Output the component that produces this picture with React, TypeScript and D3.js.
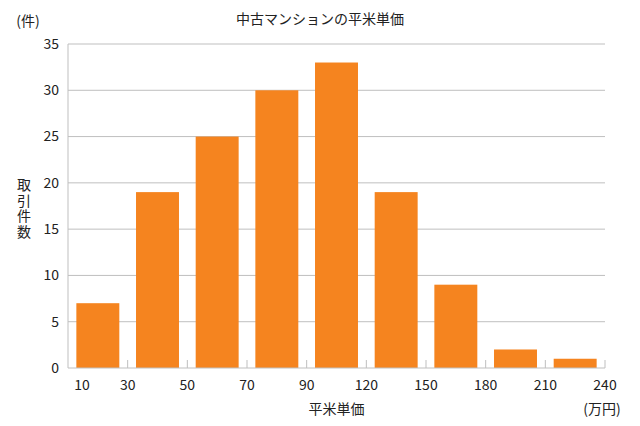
import React from "react";
import * as d3 from "d3";

const bins = ["10-30", "30-50", "50-70", "70-90", "90-120", "120-150", "150-180", "180-210", "210-240"];
const counts = [7, 19, 25, 30, 33, 19, 9, 2, 1];
const edgeLabels = ["10", "30", "50", "70", "90", "120", "150", "180", "210", "240"];
const yTicks = [0, 5, 10, 15, 20, 25, 30, 35];
const yLabel = "取引件数";

const W = 640, H = 426;
const M = { left: 68, right: 35, top: 44, bottom: 58 };
const FONT = "'Noto Sans CJK JP', 'Noto Sans', sans-serif";

export default function App() {
  const x = d3.scaleBand().domain(bins).range([M.left, W - M.right]).paddingInner(0.28).paddingOuter(0.14);
  const y = d3.scaleLinear().domain([0, 35]).range([H - M.bottom, M.top]);
  const x0 = M.left;
  const edgeX = (i: number) => x0 + i * ((W - M.right - M.left) / bins.length);
  const grid = "#bfbfbf";
  const txt = "#222";
  return (
    <svg width={W} height={H} style={{ position: "absolute", left: 0, top: 0, background: "#fff" }} fontFamily={FONT}>
      {yTicks.filter(t => t > 0).map(t => (
        <line key={t} x1={M.left} x2={W - M.right} y1={y(t)} y2={y(t)} stroke={grid} strokeWidth={1} />
      ))}
      <line x1={M.left} x2={M.left} y1={M.top} y2={y(0)} stroke={grid} strokeWidth={1} />
      {bins.map((b, i) => (
        <rect key={b} x={x(b)} y={y(counts[i])} width={x.bandwidth()} height={y(0) - y(counts[i])} fill="#F5841F" />
      ))}
      <line x1={M.left} x2={W - M.right} y1={y(0)} y2={y(0)} stroke={grid} strokeWidth={1.2} />
      {edgeLabels.map((_, i) => i > 0 ? (
        <line key={i} x1={edgeX(i)} x2={edgeX(i)} y1={y(0) - 8} y2={y(0)} stroke={grid} strokeWidth={1} />
      ) : null)}
      {yTicks.map(t => (
        <text key={t} x={M.left - 9} y={y(t)} dy="0.35em" textAnchor="end" fontSize={14} fill={txt}>{t}</text>
      ))}
      {edgeLabels.map((l, i) => (
        <text key={l} x={i === 0 ? edgeX(i) + 14 : edgeX(i)} y={y(0) + 22} textAnchor="middle" fontSize={14} fill={txt}>{l}</text>
      ))}
      <text x={W / 2} y={24} textAnchor="middle" fontSize={14} fill={txt}>中古マンションの平米単価</text>
      <text x={28} y={26} textAnchor="middle" fontSize={14} fill={txt}>(件)</text>
      <text x={24} y={178} style={{ writingMode: "vertical-rl" }} textAnchor="start" fontSize={14} letterSpacing={1.5} fill={txt}>{yLabel}</text>
      <text x={(M.left + W - M.right) / 2} y={414} textAnchor="middle" fontSize={14} fill={txt}>平米単価</text>
      <text x={602} y={414} textAnchor="middle" fontSize={14} fill={txt}>(万円)</text>
    </svg>
  );
}
